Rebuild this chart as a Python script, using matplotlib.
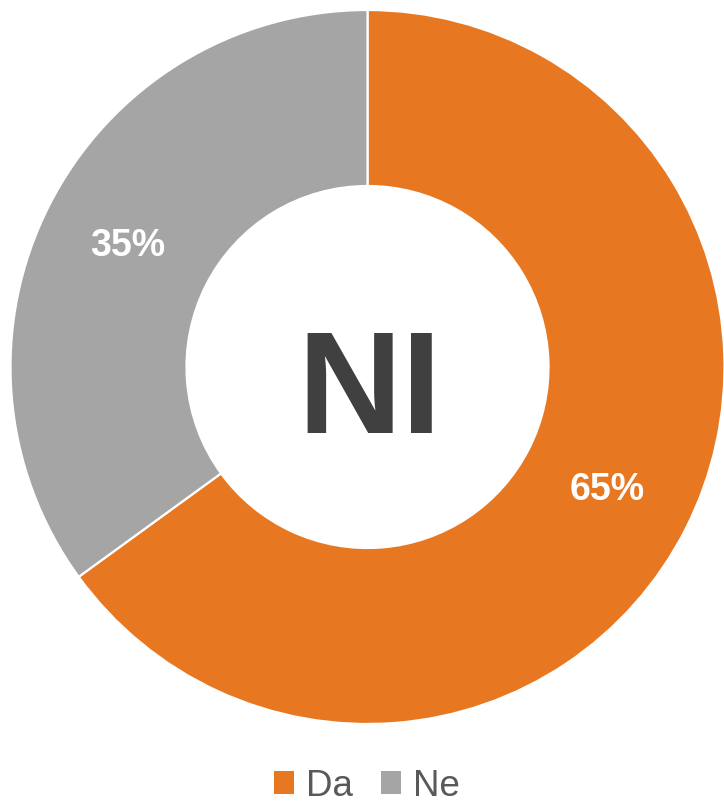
import matplotlib.pyplot as plt
from matplotlib.patches import Patch
import numpy as np

plt.rcParams['font.family'] = ['Liberation Sans', 'DejaVu Sans']

# data
categories = ['Da', 'Ne']
values = [65, 35]
colors = ['#E87722', '#A5A5A5']
center_text = 'NI'

W, H = 724, 803
fig = plt.figure(figsize=(W / 100, H / 100), dpi=100)
ax = fig.add_axes([0, 0, 1, 1])

cx, cy = 367.5, H - 368
R = 357
width = R * 0.493

wedges, texts = ax.pie(values, colors=colors, startangle=90, counterclock=False,
                       center=(cx, cy), radius=R,
                       wedgeprops=dict(width=width, edgecolor='white', linewidth=1.6))
ax.set_xlim(0, W)
ax.set_ylim(0, H)
ax.set_aspect('equal')
ax.axis('off')

# percent labels in the middle of the ring
start = 90.0
total = sum(values)
r_lab = R - width / 2
for v in values:
    mid = start - v / total * 360 / 2
    start -= v / total * 360
    x = cx + r_lab * np.cos(np.radians(mid))
    y = cy + r_lab * np.sin(np.radians(mid))
    ax.text(x, y, f'{v}%', ha='center', va='center', color='white',
            fontsize=27, fontweight='bold')

ax.text(cx + 2, cy - 28, center_text, ha='center', va='center', color='#404040',
        fontsize=104, fontweight='bold')

handles = [Patch(facecolor=c, edgecolor='none') for c in colors]
fig.legend(handles, categories, loc='center', bbox_to_anchor=(367 / W, 1 - 787 / H),
           ncol=2, frameon=False, fontsize=26.5, labelcolor='#595959',
           handlelength=0.55, handleheight=0.55, handletextpad=0.33, columnspacing=0.75)

fig.savefig('out.png', dpi=100)
